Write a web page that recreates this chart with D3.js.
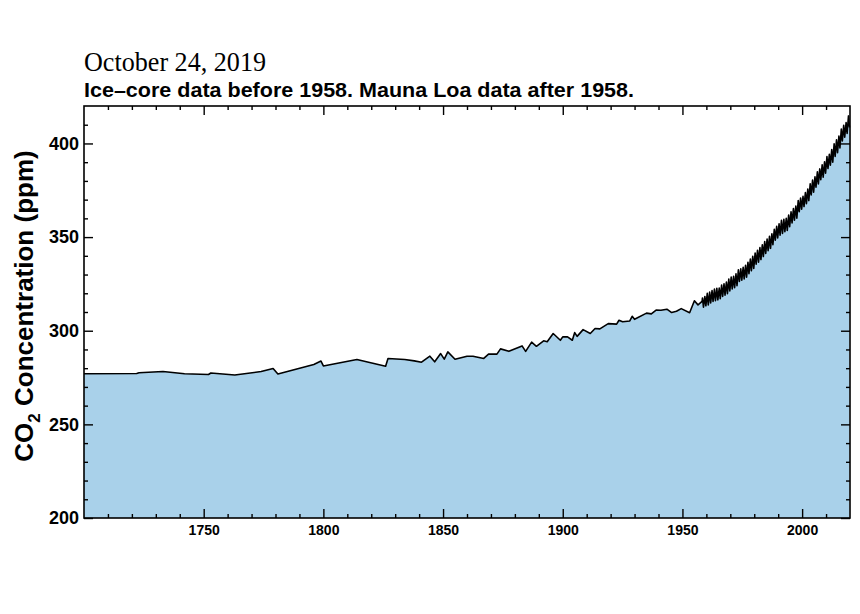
<!DOCTYPE html>
<html>
<head>
<meta charset="utf-8">
<script src="https://cdn.jsdelivr.net/npm/d3@7"></script>
<style>
  body { margin: 0; background: #fff; }
  svg { display: block; }
</style>
</head>
<body>
<div class="chart"></div>
<script>
const width = 860
const height = 614

// ice-core record
const iceYears = [1700, 1722, 1723, 1733, 1742, 1752, 1753, 1763, 1774, 1779, 1781, 1796, 1799, 1800,
    1814, 1826, 1827, 1834, 1838, 1841, 1844.5, 1846.5, 1849, 1850.5, 1852, 1855, 1860, 1862.5, 1867,
    1869, 1872.5, 1874, 1877.5, 1883, 1884.5, 1887, 1889, 1892, 1893.5, 1896, 1899, 1900, 1902, 1904,
    1905, 1906, 1908.5, 1911.5, 1913.5, 1915.5, 1919, 1922.5, 1923.5, 1925, 1928, 1929, 1930, 1935,
    1937, 1939, 1941, 1943.5, 1945.5, 1947.5, 1949.5, 1953, 1955, 1956.5]
const iceValues = [277.0, 277.2, 277.6, 278.2, 277.0, 276.6, 277.4, 276.4, 278.2, 279.8, 276.9, 282.0, 283.8, 281.2,
    284.6, 281.0, 285.2, 284.6, 283.9, 283.2, 286.4, 283.4, 287.8, 284.8, 288.7, 284.8, 286.4, 286.4, 285.2,
    287.5, 287.5, 290.3, 289.0, 291.9, 289.0, 293.9, 291.7, 294.6, 294.1, 298.5, 294.9, 296.7, 296.7, 294.9,
    299.0, 297.0, 300.6, 298.5, 301.2, 301.0, 303.8, 303.5, 305.6, 304.8, 305.2, 307.7, 306.1, 309.4,
    309.0, 311.0, 310.9, 311.5, 309.7, 310.4, 311.8, 309.6, 316.0, 313.8]

// Mauna Loa: yearly spring high (May) and autumn low (Oct)
const mloYears = d3.range(1958, 2020)
const mloMay = [317.5, 318.3, 320.0, 320.6, 321.4, 322.2, 322.6, 322.8, 324.4, 325.0,
    326.0, 327.6, 328.6, 329.0, 330.4, 332.5, 333.1, 333.9, 334.9, 336.6,
    338.3, 339.7, 341.5, 343.0, 344.4, 345.9, 347.6, 348.9, 350.4, 351.8,
    354.2, 355.8, 357.1, 359.0, 359.5, 360.0, 361.8, 363.5, 365.2, 366.6,
    369.5, 370.9, 371.8, 373.8, 375.6, 378.4, 380.5, 382.2, 384.9, 386.4,
    388.6, 390.2, 393.0, 394.2, 396.8, 399.8, 401.9, 403.9, 407.7, 409.7,
    411.2, 414.7]
const mloOct = [312.6, 313.3, 313.8, 314.8, 315.6, 316.0, 316.5, 317.1, 318.3, 319.0,
    319.8, 321.3, 322.3, 323.0, 324.0, 326.3, 327.0, 327.7, 328.6, 330.5,
    332.0, 333.3, 335.5, 336.6, 338.0, 339.6, 341.3, 342.7, 344.0, 345.9,
    348.4, 349.6, 351.0, 351.9, 352.9, 353.5, 355.5, 357.6, 359.0, 360.1,
    363.6, 364.9, 366.3, 367.8, 369.5, 372.5, 374.0, 376.6, 378.4, 380.6,
    382.0, 384.1, 386.6, 388.4, 390.0, 393.1, 395.1, 397.6, 401.3, 403.3,
    405.3, 408.5]
const mloStart = [1958.2, 315.7]

const xMajor = [1750, 1800, 1850, 1900, 1950, 2000]
const yMajor = [200, 250, 300, 350, 400]

const data = iceYears.map((yr, i) => [yr, iceValues[i]])
data.push(mloStart)
mloYears.forEach((yr, i) => {
    data.push([yr + 0.37, mloMay[i]])
    data.push([yr + 0.79, mloOct[i]])
})

const x = d3.scaleLinear().domain([1700, 2020]).range([84, 850])
const y = d3.scaleLinear().domain([200, 420]).range([518, 106])

const svg = d3.select('.chart').append('svg')
    .attr('width', width)
    .attr('height', height)

svg.append('rect').attr('width', width).attr('height', height).attr('fill', '#fff')

svg.append('path')
    .datum(data)
    .attr('fill', '#a9d1ea')
    .attr('d', d3.area().x(d => x(d[0])).y0(y(200)).y1(d => y(d[1])))

svg.append('path')
    .datum(data)
    .attr('fill', 'none')
    .attr('stroke', '#000')
    .attr('stroke-width', 1.6)
    .attr('stroke-linejoin', 'round')
    .attr('d', d3.line().x(d => x(d[0])).y(d => y(d[1])))

const xMinor = d3.range(1710, 2020, 10).filter(v => !xMajor.includes(v))
const yMinor = d3.range(210, 420, 10).filter(v => !yMajor.includes(v))

function styleAxis(g) {
    g.select('.domain').remove()
    g.selectAll('line').attr('stroke', '#000').attr('stroke-width', 1.4)
}

// bottom
svg.append('g').attr('transform', `translate(0,${y(200)})`)
    .call(d3.axisBottom(x).tickValues(xMajor).tickSize(-9).tickPadding(7).tickFormat(d3.format('d')))
    .call(styleAxis)
    .call(g => g.selectAll('text').attr('font-family', 'Liberation Sans, Arial, sans-serif')
        .attr('font-weight', 'bold').attr('font-size', 14).attr('fill', '#000'))
svg.append('g').attr('transform', `translate(0,${y(200)})`)
    .call(d3.axisBottom(x).tickValues(xMinor).tickSize(-4).tickFormat(''))
    .call(styleAxis)
// top
svg.append('g').attr('transform', `translate(0,${y(420)})`)
    .call(d3.axisTop(x).tickValues(xMajor).tickSize(-9).tickFormat(''))
    .call(styleAxis)
svg.append('g').attr('transform', `translate(0,${y(420)})`)
    .call(d3.axisTop(x).tickValues(xMinor).tickSize(-4).tickFormat(''))
    .call(styleAxis)
// left
svg.append('g').attr('transform', `translate(${x(1700)},0)`)
    .call(d3.axisLeft(y).tickValues(yMajor).tickSize(-9).tickPadding(5))
    .call(styleAxis)
    .call(g => g.selectAll('text').attr('font-family', 'Liberation Sans, Arial, sans-serif')
        .attr('font-weight', 'bold').attr('font-size', 18).attr('fill', '#000'))
svg.append('g').attr('transform', `translate(${x(1700)},0)`)
    .call(d3.axisLeft(y).tickValues(yMinor).tickSize(-4).tickFormat(''))
    .call(styleAxis)
// right
svg.append('g').attr('transform', `translate(${x(2020)},0)`)
    .call(d3.axisRight(y).tickValues(yMajor).tickSize(-9).tickFormat(''))
    .call(styleAxis)
svg.append('g').attr('transform', `translate(${x(2020)},0)`)
    .call(d3.axisRight(y).tickValues(yMinor).tickSize(-4).tickFormat(''))
    .call(styleAxis)

// frame
svg.append('rect')
    .attr('x', x(1700)).attr('y', y(420))
    .attr('width', x(2020) - x(1700)).attr('height', y(200) - y(420))
    .attr('fill', 'none').attr('stroke', '#000').attr('stroke-width', 1.6)

// titles
svg.append('text')
    .attr('x', 84).attr('y', 71)
    .attr('font-family', 'Liberation Serif, Times New Roman, serif')
    .attr('font-size', 27)
    .attr('textLength', 182).attr('lengthAdjust', 'spacingAndGlyphs')
    .text('October 24, 2019')

svg.append('text')
    .attr('x', 84).attr('y', 97)
    .attr('font-family', 'Liberation Sans, Arial, sans-serif')
    .attr('font-weight', 'bold')
    .attr('font-size', 21)
    .attr('textLength', 550).attr('lengthAdjust', 'spacingAndGlyphs')
    .text('Ice\u2013core data before 1958. Mauna Loa data after 1958.')

const ytitle = svg.append('text')
    .attr('transform', 'translate(33,306) rotate(-90)')
    .attr('text-anchor', 'middle')
    .attr('font-family', 'Liberation Sans, Arial, sans-serif')
    .attr('font-weight', 'bold')
    .attr('font-size', 26)
ytitle.append('tspan').text('CO')
ytitle.append('tspan').attr('font-size', 17).attr('dy', 7).text('2')
ytitle.append('tspan').attr('dy', -7).text(' Concentration (ppm)')
</script>
</body>
</html>
